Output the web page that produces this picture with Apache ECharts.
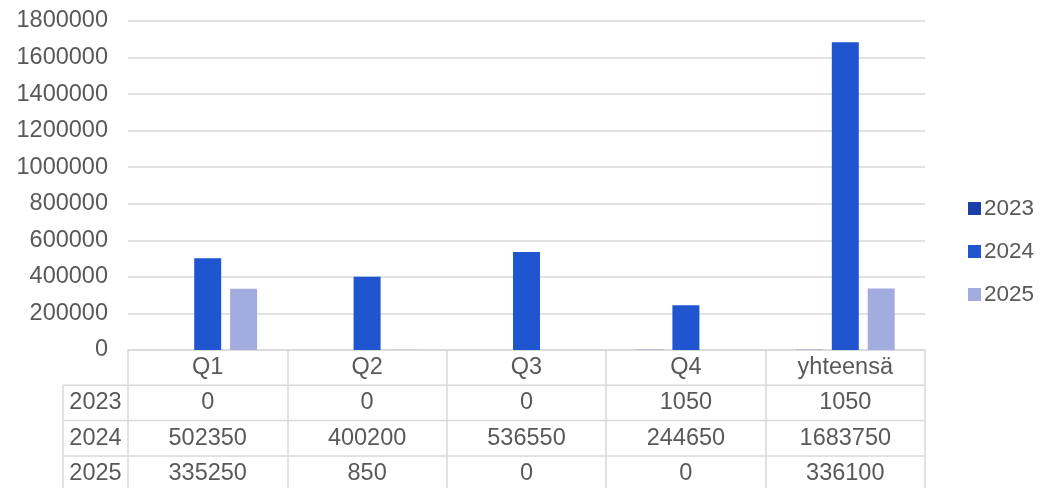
<!DOCTYPE html>
<html>
<head>
<meta charset="utf-8">
<script src="https://cdn.jsdelivr.net/npm/echarts@6/dist/echarts.min.js"></script>
<style>
html,body{margin:0;padding:0;background:#fff;}
#c{width:1040px;height:488px;}
</style>
</head>
<body>
<div id="c"></div>
<script>
const categories = ['Q1', 'Q2', 'Q3', 'Q4', 'yhteensä'];
const seriesNames = ['2023', '2024', '2025'];
const values2023 = [0, 0, 0, 1050, 1050];
const values2024 = [502350, 400200, 536550, 244650, 1683750];
const values2025 = [335250, 850, 0, 0, 336100];
const yMax = 1800000;
const yInterval = 200000;

const allValues = [values2023, values2024, values2025];
const colors = ['#1b3fa6', '#1f56cf', '#a3acdf'];
const FONT = "'Liberation Sans', Arial, sans-serif";
const TXT = '#595959';
const LINE = '#d9d9d9';
const FS = 23.5;

const chart = echarts.init(document.getElementById('c'), null, {renderer: 'canvas'});

const option = {
  animation: false,
  color: colors,
  grid: {left: 128, right: 115, top: 21, bottom: 138, containLabel: false},
  legend: {
    orient: 'vertical',
    left: 963,
    top: 192,
    itemWidth: 13,
    itemHeight: 13,
    itemGap: 20,
    icon: 'rect',
    data: seriesNames,
    textStyle: {color: TXT, fontSize: 22.5, fontFamily: FONT, lineHeight: 22, padding: [0, 0, 0, -2]}
  },
  xAxis: {
    type: 'category',
    data: categories,
    axisLine: {show: true, lineStyle: {color: LINE, width: 1.5}},
    axisTick: {show: true, alignWithLabel: false, length: 138, lineStyle: {color: LINE, width: 1.5}},
    axisLabel: {color: TXT, fontSize: FS, fontFamily: FONT, margin: 18, verticalAlign: 'middle', interval: 0},
    splitLine: {show: false}
  },
  yAxis: {
    type: 'value',
    min: 0,
    max: yMax,
    interval: yInterval,
    axisLine: {show: false},
    axisTick: {show: false},
    axisLabel: {color: TXT, fontSize: FS, fontFamily: FONT, margin: 20, formatter: v => String(v)},
    splitLine: {lineStyle: {color: LINE, width: 1.5}}
  },
  series: seriesNames.map((n, i) => ({
    name: n,
    type: 'bar',
    data: allValues[i],
    barGap: '33%',
    barCategoryGap: '38%'
  }))
};
chart.setOption(option);

// Data table under the plot, built from the same arrays
function buildTable() {
  const cx0 = chart.convertToPixel({xAxisIndex: 0}, 0);
  const cx1 = chart.convertToPixel({xAxisIndex: 0}, 1);
  const band = cx1 - cx0;
  const left = cx0 - band / 2;
  const right = left + band * categories.length;
  const y0 = chart.convertToPixel({yAxisIndex: 0}, 0);
  const rowH = 35.3;
  const tableLeft = 63;
  const els = [];
  for (let r = 0; r < seriesNames.length; r++) {
    const yTop = y0 + rowH * (r + 1);
    els.push({type: 'line', shape: {x1: tableLeft, y1: yTop, x2: right, y2: yTop},
      style: {stroke: LINE, lineWidth: 1.5}, silent: true});
    const yc = yTop + rowH / 2;
    els.push({type: 'text', x: (tableLeft + left) / 2, y: yc,
      style: {text: seriesNames[r], fill: TXT, font: FS + 'px ' + FONT, align: 'center', verticalAlign: 'middle'}});
    for (let c = 0; c < categories.length; c++) {
      const xc = chart.convertToPixel({xAxisIndex: 0}, c);
      els.push({type: 'text', x: xc, y: yc,
        style: {text: String(allValues[r][c]), fill: TXT, font: FS + 'px ' + FONT, align: 'center', verticalAlign: 'middle'}});
    }
  }
  els.push({type: 'line', shape: {x1: tableLeft, y1: y0 + rowH, x2: tableLeft, y2: 488},
    style: {stroke: LINE, lineWidth: 1.5}, silent: true});
  chart.setOption({graphic: {elements: els}});
}
buildTable();
</script>
</body>
</html>
